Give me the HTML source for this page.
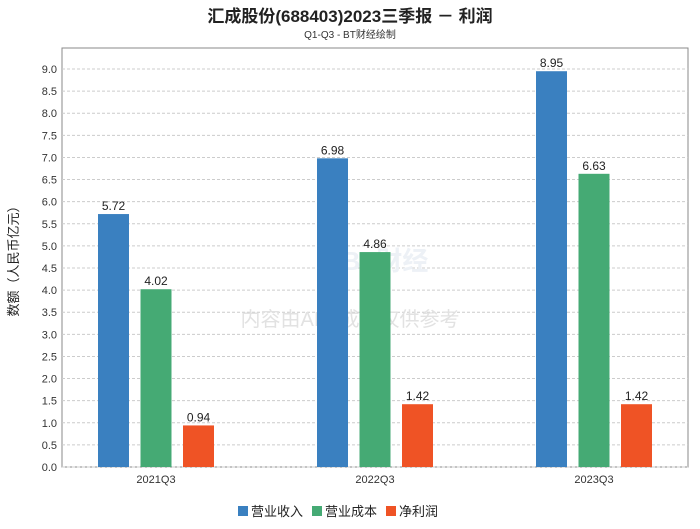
<!DOCTYPE html>
<html><head><meta charset="utf-8"><style>
body{margin:0;background:#fff;font-family:"Liberation Sans","Noto Sans CJK SC",sans-serif;}
svg text{font-family:"Liberation Sans","Noto Sans CJK SC",sans-serif;}
</style></head><body>
<svg id="c" width="700" height="524" xmlns="http://www.w3.org/2000/svg">
<rect width="700" height="524" fill="#fff"/>
<text x="350" y="22" text-anchor="middle" font-size="17" font-weight="bold" fill="#222">汇成股份(688403)2023三季报 － 利润</text>
<text x="350" y="38" text-anchor="middle" font-size="10" fill="#333">Q1-Q3 - BT财经绘制</text>
<g id="grid"></g>
<text x="350" y="326" text-anchor="middle" font-size="20" fill="#e2e2e2">内容由AI生成，仅供参考</text>
<text x="385" y="270" text-anchor="middle" font-size="26" font-weight="bold" fill="#edf1f6">BT财经</text>
<g id="bars"></g>
<text x="18" y="258" text-anchor="middle" font-size="13" fill="#222" transform="rotate(-90 18 258)">数额（人民币亿元）</text>
<g id="legend"></g>
</svg>
<script>
const categories=["2021Q3","2022Q3","2023Q3"];
const seriesNames=["营业收入","营业成本","净利润"];
const revenue=[5.72,6.98,8.95];
const cost=[4.02,4.86,6.63];
const profit=[0.94,1.42,1.42];
const yTicks=[0,0.5,1,1.5,2,2.5,3,3.5,4,4.5,5,5.5,6,6.5,7,7.5,8,8.5,9];
const colors=["#3a80c0","#45aa74","#ef5325"];
const NS="http://www.w3.org/2000/svg";
const L=62,R=688,T=48,B=467;
const y=v=>B-v*(467-69)/9;
const xc=i=>156+i*219;
function mk(tag,attrs,parent,txt){const e=document.createElementNS(NS,tag);for(const k in attrs)e.setAttribute(k,attrs[k]);if(txt!==undefined)e.textContent=txt;parent.appendChild(e);return e;}
const g=document.getElementById('grid');
mk('rect',{x:L,y:T,width:R-L,height:B-T,fill:'none',stroke:'#888'},g);
yTicks.forEach(t=>{
 const l=mk('line',{x1:L,x2:R,y1:y(t),y2:y(t),stroke:'#ccc','stroke-dasharray':'3,2'},g);
 
 
 const tx=mk('text',{x:L-5,y:y(t)+4,'text-anchor':'end','font-size':11,fill:'#333'},g,t.toFixed(1));
 
 
});
categories.forEach((c,i)=>{
 const tx=mk('text',{x:xc(i),y:B+16,'text-anchor':'middle','font-size':11,fill:'#333'},g,c);
 
 
});
const bg=document.getElementById('bars');
[revenue,cost,profit].forEach((s,k)=>{
 s.forEach((v,i)=>{
  const x=xc(i)+(k-1)*42.5-15.5;
  const r=mk('rect',{x:x,y:y(v),width:31,height:B-y(v),fill:colors[k]},bg);
  
  
  const t=mk('text',{x:x+15.5,y:y(v)-4,'text-anchor':'middle','font-size':12,fill:'#222'},bg,v.toFixed(2));
  
  
 });
});
const lg=document.getElementById('legend');
let lx=238;
seriesNames.forEach((n,k)=>{
 const r=mk('rect',{x:lx,y:506,width:10,height:10,fill:colors[k]},lg);
 
 
 const t=mk('text',{x:lx+13,y:516,'font-size':13,fill:'#222'},lg,n);
 
 
 lx+=n.length*13+22;
});
</script>
</body></html>
